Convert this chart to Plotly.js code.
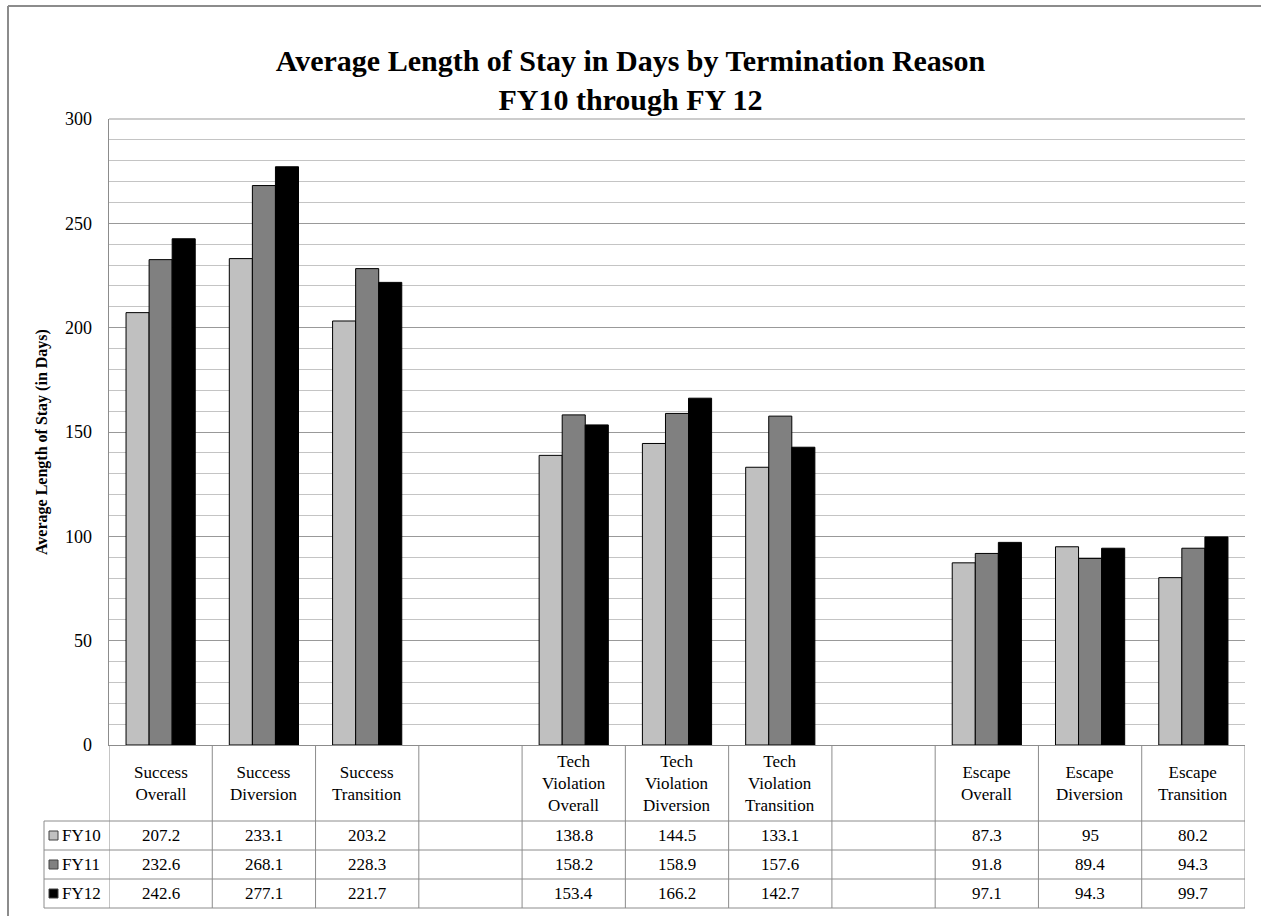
<!DOCTYPE html>
<html>
<head>
<meta charset="utf-8">
<script src="https://cdn.plot.ly/plotly-3.0.1.min.js"></script>
<style>
  html, body { margin: 0; padding: 0; background: #ffffff; }
  #chart { width: 1261px; height: 916px; }
</style>
</head>
<body>
<div id="chart"></div>
<script>
// Termination reasons (blank slots separate the three groups)
const categories = [
  'Success<br>Overall', 'Success<br>Diversion', 'Success<br>Transition', '',
  'Tech<br>Violation<br>Overall', 'Tech<br>Violation<br>Diversion', 'Tech<br>Violation<br>Transition', '',
  'Escape<br>Overall', 'Escape<br>Diversion', 'Escape<br>Transition'
];
const seriesNames = ['FY10', 'FY11', 'FY12'];
const fy10 = [207.2, 233.1, 203.2, null, 138.8, 144.5, 133.1, null, 87.3, 95, 80.2];
const fy11 = [232.6, 268.1, 228.3, null, 158.2, 158.9, 157.6, null, 91.8, 89.4, 94.3];
const fy12 = [242.6, 277.1, 221.7, null, 153.4, 166.2, 142.7, null, 97.1, 94.3, 99.7];
const yTicks = [0, 50, 100, 150, 200, 250, 300];

const seriesValues = [fy10, fy11, fy12];
const seriesColors = ['#c0c0c0', '#808080', '#000000'];

const W = 1261, H = 916;
const M = { l: 109, r: 16, t: 119, b: 171 };
const plotW = W - M.l - M.r;
const plotH = H - M.t - M.b;
// pixel -> paper helpers
const px = p => (p - M.l) / plotW;
const py = q => (H - M.b - q) / plotH;

const xIdx = categories.map((_, i) => i);
const SERIF = 'Liberation Serif, Times New Roman, serif';
const gridGray = '#8c8c8c';

const traces = seriesValues.map((vals, s) => ({
  type: 'bar',
  name: seriesNames[s],
  x: xIdx,
  y: vals,
  marker: { color: seriesColors[s], line: { color: '#000000', width: 1 } },
  hoverinfo: 'x+y+name'
}));

// Data table geometry (pixels)
const headTop = 745, headBot = 821;
const rowLines = [821, 850, 879, 908];
const legendLeft = 44;
const tableRight = 1245;

const shapes = [];
const line = (x0, y0, x1, y1, xref, color, width) => shapes.push({
  type: 'line', xref: xref, yref: 'paper', x0: x0, x1: x1, y0: y0, y1: y1,
  line: { color: color || gridGray, width: width || 1 }
});

// outer chart frame (top and left edges)
line(px(8), py(6), px(W + 2), py(6), 'paper', '#8c8c8c', 2);
line(px(8), py(6), px(8), py(H + 2), 'paper', '#8c8c8c', 2);
// top edge of the plot area (300 gridline)
line(0, 1, 1, 1, 'paper', '#999999', 1);

// table vertical dividers
for (let k = 0; k <= categories.length; k++) {
  line(k - 0.5, py(headTop), k - 0.5, py(rowLines[3]), 'x');
}
// legend column left edge
line(px(legendLeft), py(rowLines[0]), px(legendLeft), py(rowLines[3]), 'paper');
// table horizontal rules
rowLines.forEach(q => line(px(legendLeft), py(q), px(tableRight), py(q), 'paper'));

const annotations = [];
// category header cells
categories.forEach((c, i) => {
  if (!c) return;
  annotations.push({
    xref: 'x', yref: 'paper', x: i, y: py((headTop + headBot) / 2),
    text: c, showarrow: false, xanchor: 'center', yanchor: 'middle',
    font: { family: SERIF, size: 17, color: '#000' }
  });
});
// value rows + legend keys
seriesValues.forEach((vals, s) => {
  const yc = (rowLines[s] + rowLines[s + 1]) / 2;
  shapes.push({
    type: 'rect', xref: 'paper', yref: 'paper',
    x0: px(49), x1: px(58), y0: py(yc + 4.5), y1: py(yc - 4.5),
    fillcolor: seriesColors[s], line: { color: '#404040', width: 1 }
  });
  annotations.push({
    xref: 'paper', yref: 'paper', x: px(60), y: py(yc),
    text: seriesNames[s], showarrow: false, xanchor: 'left', yanchor: 'middle',
    font: { family: SERIF, size: 17, color: '#000' }
  });
  vals.forEach((v, i) => {
    if (v === null) return;
    annotations.push({
      xref: 'x', yref: 'paper', x: i, y: py(yc),
      text: String(v), showarrow: false, xanchor: 'center', yanchor: 'middle',
      font: { family: SERIF, size: 17, color: '#000' }
    });
  });
});

// vertical axis title
annotations.push({
  xref: 'paper', yref: 'paper', x: px(42), y: py(442),
  text: '<b>Average Length of Stay (in Days)</b>', textangle: -90,
  showarrow: false, xanchor: 'center', yanchor: 'middle',
  font: { family: SERIF, size: 16, color: '#000' }
});

const layout = {
  width: W, height: H,
  margin: M,
  paper_bgcolor: '#ffffff', plot_bgcolor: '#ffffff',
  showlegend: false,
  barmode: 'group', bargap: 0.33, bargroupgap: 0,
  title: {
    text: '<b>Average Length of Stay in Days by Termination Reason<br>FY10 through FY 12</b>',
    font: { family: SERIF, size: 30, color: '#000' },
    x: 0.5, xanchor: 'center', xref: 'container',
    y: 1 - 71 / H, yanchor: 'middle', yref: 'container'
  },
  xaxis: {
    range: [-0.5, categories.length - 0.5],
    showticklabels: false, ticks: '', showgrid: false, zeroline: false,
    showline: true, linecolor: gridGray, linewidth: 1, fixedrange: true
  },
  yaxis: {
    range: [0, 300], tickvals: yTicks, ticktext: yTicks.map(String),
    ticks: 'outside', ticklen: 12, tickcolor: 'rgba(0,0,0,0)',
    tickfont: { family: SERIF, size: 18, color: '#000' },
    showgrid: true, gridcolor: '#999999', gridwidth: 1,
    minor: { dtick: 10, showgrid: true, gridcolor: '#c4c4c4', gridwidth: 1 },
    zeroline: false, showline: true, linecolor: gridGray, linewidth: 1.5,
    mirror: false, fixedrange: true
  },
  shapes: shapes,
  annotations: annotations
};

Plotly.newPlot('chart', traces, layout, { displayModeBar: false, staticPlot: true });
</script>
</body>
</html>
